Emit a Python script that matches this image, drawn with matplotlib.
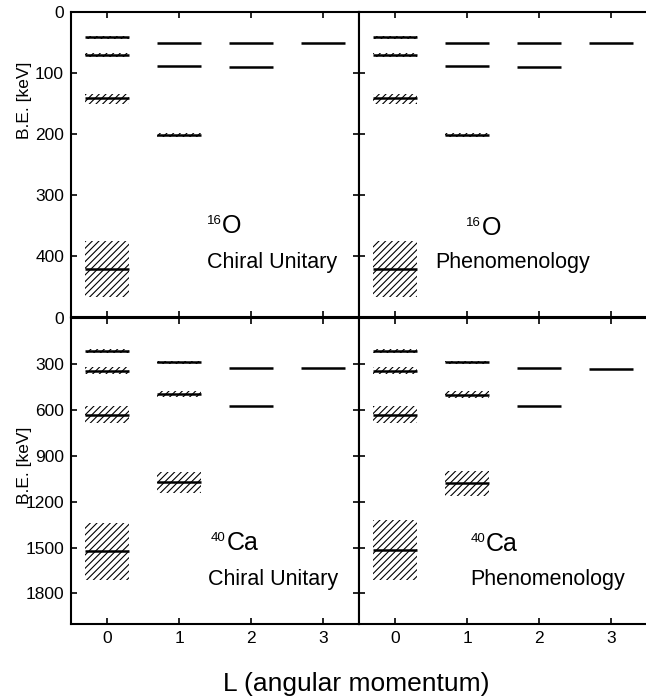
import numpy as np
import matplotlib
matplotlib.use('Agg')
import matplotlib.pyplot as plt

plt.rcParams['font.family'] = ['Liberation Sans', 'DejaVu Sans']
plt.rcParams['hatch.linewidth'] = 0.8

#=============== data (keV) ===============
# each level: L, energy, hatch low, hatch high (nan = no band)
nan = np.nan

o16_chiral_L  = [0, 0, 0, 0, 1, 1, 1, 2, 2, 3]
o16_chiral_E  = [42, 71.5, 142, 422, 51, 89.5, 202, 51, 90, 51]
o16_chiral_lo = [39, 68, 134, 375, nan, nan, 199, nan, nan, nan]
o16_chiral_hi = [45, 75, 151, 468, nan, nan, 205, nan, nan, nan]

o16_pheno_L  = [0, 0, 0, 0, 1, 1, 1, 2, 2, 3]
o16_pheno_E  = [42, 71.5, 142, 422, 51, 89.5, 202, 51, 90.5, 51]
o16_pheno_lo = [39, 68, 134, 375, nan, nan, 199, nan, nan, nan]
o16_pheno_hi = [45, 75, 151, 468, nan, nan, 205, nan, nan, nan]

ca40_chiral_L  = [0, 0, 0, 0, 1, 1, 1, 2, 2, 3]
ca40_chiral_E  = [217, 344, 637, 1525, 289, 496, 1073, 326, 578, 326]
ca40_chiral_lo = [204, 322, 578, 1341, 279, 475, 1005, nan, nan, nan]
ca40_chiral_hi = [230, 366, 686, 1713, 299, 516, 1145, nan, nan, nan]

ca40_pheno_L  = [0, 0, 0, 0, 1, 1, 1, 2, 2, 3]
ca40_pheno_E  = [217, 344, 633, 1515, 289, 500, 1079, 326, 578, 331]
ca40_pheno_lo = [204, 322, 578, 1319, 279, 478, 1003, nan, nan, nan]
ca40_pheno_hi = [230, 366, 686, 1713, 299, 520, 1162, nan, nan, nan]

o16_ticks = [0, 100, 200, 300, 400]
ca40_ticks = [0, 300, 600, 900, 1200, 1500, 1800]
L_ticks = [0, 1, 2, 3]
#==========================================

HALF = 0.3

def draw_levels(ax, Ls, Es, los, his):
    for L, E, lo, hi in zip(Ls, Es, los, his):
        if not np.isnan(lo):
            ax.bar(L, hi - lo, width=2 * HALF, bottom=lo, fill=False,
                   hatch='/////', edgecolor='black', linewidth=0)
        ax.plot([L - HALF, L + HALF], [E, E], color='black', lw=1.8,
                solid_capstyle='butt')

def style(ax, ylim, yticks, left_labels, bottom_labels):
    ax.set_xlim(-0.5, 3.5)
    ax.set_ylim(ylim, 0)
    ax.set_xticks(L_ticks)
    ax.set_yticks(yticks)
    ax.tick_params(direction='in', length=4, width=1.2, top=True, right=True,
                   labelsize=12.5, pad=5)
    if not left_labels:
        ax.set_yticklabels([])
    if not bottom_labels:
        ax.set_xticklabels([])
    for s in ax.spines.values():
        s.set_linewidth(1.5)

def label(ax, x, y, mass, sym):
    # small mass number raised to the top of the element symbol
    t = ax.text(x, y, sym, fontsize=18)
    ax.annotate(mass, xy=(x, y), xytext=(-0.5, 6.5), textcoords='offset points',
                fontsize=9.5, ha='right', va='baseline')
    return t

fig = plt.figure(figsize=(6.46, 7.0), dpi=100)
W = 288 / 646.0
ax_tl = fig.add_axes([71 / 646.0, 1 - 317 / 700.0, W, 305.3 / 700.0])
ax_tr = fig.add_axes([359 / 646.0, 1 - 317 / 700.0, W, 305.3 / 700.0])
ax_bl = fig.add_axes([71 / 646.0, 1 - 624 / 700.0, W, 306 / 700.0])
ax_br = fig.add_axes([359 / 646.0, 1 - 624 / 700.0, W, 306 / 700.0])

draw_levels(ax_tl, o16_chiral_L, o16_chiral_E, o16_chiral_lo, o16_chiral_hi)
draw_levels(ax_tr, o16_pheno_L, o16_pheno_E, o16_pheno_lo, o16_pheno_hi)
draw_levels(ax_bl, ca40_chiral_L, ca40_chiral_E, ca40_chiral_lo, ca40_chiral_hi)
draw_levels(ax_br, ca40_pheno_L, ca40_pheno_E, ca40_pheno_lo, ca40_pheno_hi)

style(ax_tl, 500, o16_ticks, True, False)
style(ax_tr, 500, o16_ticks, False, False)
style(ax_bl, 2000, ca40_ticks, True, True)
style(ax_br, 2000, ca40_ticks, False, True)
# right edge of the right panels is cut off in the original
for ax in (ax_tr, ax_br):
    ax.spines['right'].set_visible(False)
    ax.tick_params(right=False)

label(ax_tl, 1.60, 363, '16', 'O')
ax_tl.text(1.385, 420, 'Chiral Unitary', fontsize=15.5)
label(ax_tr, 1.20, 366, '16', 'O')
ax_tr.text(0.56, 420, 'Phenomenology', fontsize=15.5)
label(ax_bl, 1.66, 1516, '40', 'Ca')
ax_bl.text(1.40, 1745, 'Chiral Unitary', fontsize=15.5)
label(ax_br, 1.26, 1523, '40', 'Ca')
ax_br.text(1.04, 1745, 'Phenomenology', fontsize=15.5)

fig.text(25 / 646.0, 1 - 100 / 700.0, 'B.E. [keV]', rotation=90,
         ha='center', va='center', fontsize=12.5)
fig.text(25 / 646.0, 1 - 465 / 700.0, 'B.E. [keV]', rotation=90,
         ha='center', va='center', fontsize=12.5)
fig.text(356 / 646.0, 1 - 684 / 700.0, 'L (angular momentum)',
         ha='center', va='center', fontsize=19)

fig.savefig('out.png', dpi=100)
